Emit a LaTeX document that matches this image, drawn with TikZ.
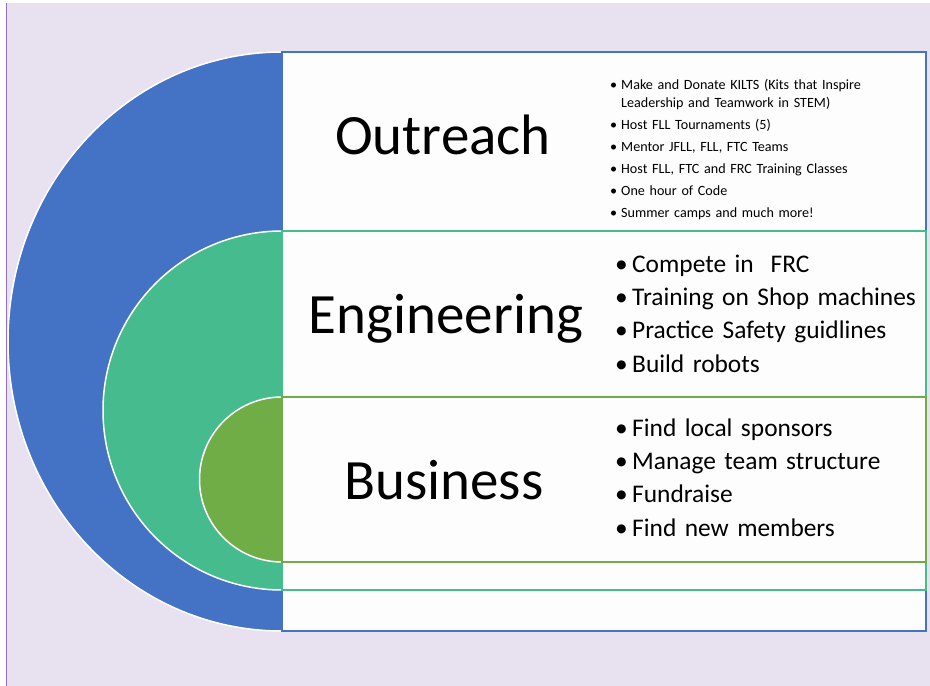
\documentclass[tikz,border=0pt]{standalone}
\usepackage{fontspec}
\setmainfont{Carlito}
\usepackage{tikz}

\definecolor{lavbg}{HTML}{E8E1F0}
\definecolor{edgepurple}{HTML}{9470C8}
\definecolor{outblue}{HTML}{4472C4}
\definecolor{engteal}{HTML}{45BB8E}
\definecolor{busgreen}{HTML}{70AD47}
\definecolor{boxwhite}{HTML}{FDFDFD}

\def\smallbul{\makebox[11pt][l]{\textbullet}}
\def\bigbul{\makebox[17pt][l]{\textbullet}}

\tikzset{
	halfdisc/.style={draw=white, line width=1.5pt},
	rowbox/.style={fill=boxwhite, line width=2pt},
	rowtitle/.style={anchor=base, inner sep=0pt, font=\fontsize{57}{60}\selectfont},
	smalllist/.style={anchor=base west, inner sep=0pt, text width=400pt, align=left, font=\fontsize{14.1}{18}\selectfont},
	biglist/.style={anchor=base west, inner sep=0pt, text width=400pt, align=left, font=\fontsize{25.4}{33.4}\selectfont}
}

\begin{document}
\begin{tikzpicture}[x=1pt, y=-1pt]
		%%%%% START %%%%%
		\useasboundingbox (0, 0) rectangle (930, 686);
		
		\fill[lavbg] (7, 3) rectangle (930, 686);
		\draw[edgepurple, line width=1.2pt] (6.5, 3) -- (6.5, 686);
		
		% outer ring
		\fill[outblue, halfdisc] (282, 341.5) ellipse [x radius=274, y radius=289.5];
		\draw[outblue, rowbox] (282, 52) rectangle (926, 631);
		
		% middle ring
		\fill[engteal, halfdisc] (282, 410.5) ellipse [x radius=179, y radius=179.5];
		\draw[engteal, rowbox] (282, 231) rectangle (926, 590);
		
		% inner ring
		\fill[busgreen, halfdisc] (282, 479.5) circle (82.5);
		\draw[busgreen, rowbox] (282, 397) rectangle (926, 562);
		
		\node[rowtitle] (outreach) at (443, 154) {Outreach};
		\node[rowtitle] (engineering) at (446, 333) {Engineering};
		\node[rowtitle] (business) at (444, 499) {Business};
		
		\node[smalllist] (outlist) at (610, 89) {\smallbul Make and Donate KILTS (Kits that Inspire\\
			\hspace*{11pt}Leadership and Teamwork in STEM)\\[4pt]
			\smallbul Host FLL Tournaments (5)\\[4pt]
			\smallbul Mentor JFLL, FLL, FTC Teams\\[4pt]
			\smallbul Host FLL, FTC and FRC Training Classes\\[4pt]
			\smallbul One hour of Code\\[4pt]
			\smallbul Summer camps and much more!};
		
		\node[biglist] (englist) at (615, 272) {\bigbul Compete in \ FRC\\
			\bigbul Training on Shop machines\\
			\bigbul Practice Safety guidlines\\
			\bigbul Build robots};
		
		\node[biglist] (buslist) at (615, 436) {\bigbul Find local sponsors\\
			\bigbul Manage team structure\\
			\bigbul Fundraise\\
			\bigbul Find new members};
		
		%%%%% END %%%%%
	\end{tikzpicture}
\end{document}
